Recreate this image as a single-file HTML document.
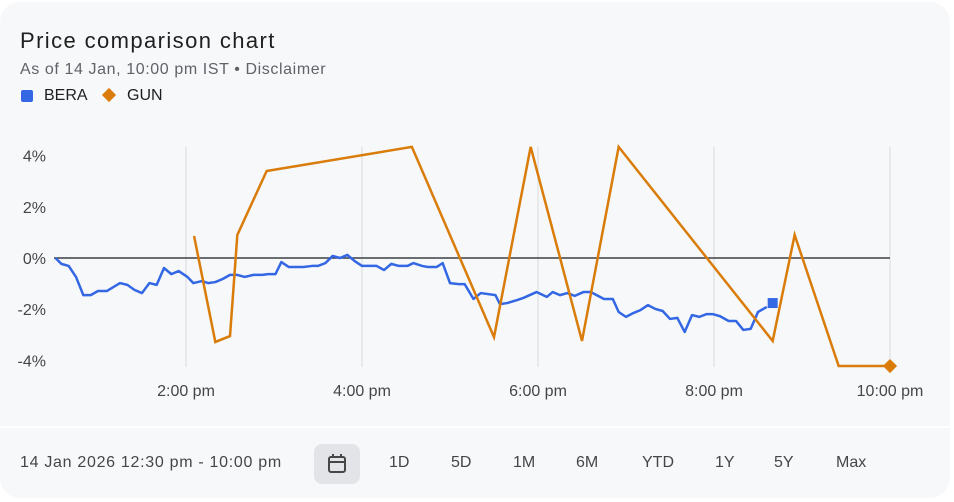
<!DOCTYPE html>
<html><head><meta charset="utf-8">
<style>
body{margin:0;background:#fff;font-family:"Liberation Sans",sans-serif;}
#wrap{position:relative;width:954px;height:502px;overflow:hidden;}
.card{position:absolute;left:0;top:2px;width:950px;height:424px;background:#f7f8fa;border-radius:20px 20px 0 0;}
.bot{position:absolute;left:0;top:428px;width:950px;height:70px;background:#f7f8fa;border-radius:0 0 20px 20px;}
.t{position:absolute;white-space:nowrap;}
.btn{position:absolute;top:454px;font-size:16px;color:#444746;}
</style></head><body>
<div id="wrap">
<div class="card"></div>
<div class="bot"></div>
<div class="t" style="left:20px;top:28px;font-size:22px;letter-spacing:1.4px;color:#1f1f1f">Price comparison chart</div>
<div class="t" style="left:20px;top:61px;font-size:16px;letter-spacing:0.6px;color:#5f6368">As of 14 Jan, 10:00 pm IST • <span>Disclaimer</span></div>
<div class="t" style="left:21px;top:90px;width:12px;height:12px;background:#3367e4;border-radius:2px"></div>
<div class="t" style="left:44px;top:87px;font-size:16px;color:#1f1f1f">BERA</div>
<div class="t" style="left:104px;top:90px;width:10px;height:10px;background:#d97c0a;transform:rotate(45deg)"></div>
<div class="t" style="left:127px;top:87px;font-size:16px;color:#1f1f1f">GUN</div>
<svg id="chart" width="954" height="420" style="position:absolute;left:0;top:0"></svg>
<div class="t" style="left:20px;top:454px;font-size:16px;letter-spacing:0.7px;color:#444746">14 Jan 2026 12:30 pm - 10:00 pm</div>
<div class="t" style="left:314px;top:444px;width:46px;height:40px;background:#e3e4e8;border-radius:8px">
<svg width="46" height="40"><rect x="15" y="13" width="16" height="15" rx="2" fill="none" stroke="#444746" stroke-width="2"/><line x1="15" y1="18" x2="31" y2="18" stroke="#444746" stroke-width="2"/><line x1="19" y1="10" x2="19" y2="14" stroke="#444746" stroke-width="2"/><line x1="27" y1="10" x2="27" y2="14" stroke="#444746" stroke-width="2"/></svg></div>
<div class="btn" style="left:389px">1D</div>
<div class="btn" style="left:451px">5D</div>
<div class="btn" style="left:513px">1M</div>
<div class="btn" style="left:576px">6M</div>
<div class="btn" style="left:642px">YTD</div>
<div class="btn" style="left:715px">1Y</div>
<div class="btn" style="left:774px">5Y</div>
<div class="btn" style="left:836px">Max</div>
</div>
<script>
// minutes since 12:30 pm, values in %
const beraMin=[1,5,10,15,20,25,30,36,45,50,55,60,65,70,75,80,85,91,95,101,105,110,115,120,125,130,136,142,146,151,155,160,170,176,180,185,190,195,200,205,210,220,225,230,235,241,245,251,255,261,265,270,276,280,286,291,301,304,309,316,320,329,336,340,345,350,355,361,366,370,375,381,385,390,395,400,405,410,415,420,425,430,435,440,445,449,454,460,465,470,475,480,486];
const beraVal=[0,-0.23,-0.31,-0.74,-1.45,-1.45,-1.29,-1.29,-0.98,-1.05,-1.25,-1.37,-0.98,-1.05,-0.39,-0.63,-0.51,-0.74,-0.98,-0.9,-0.98,-0.94,-0.82,-0.66,-0.66,-0.74,-0.66,-0.66,-0.63,-0.63,-0.16,-0.35,-0.35,-0.31,-0.31,-0.2,0.08,0,0.12,-0.12,-0.31,-0.31,-0.47,-0.23,-0.31,-0.31,-0.2,-0.31,-0.35,-0.35,-0.2,-0.98,-1.02,-1.02,-1.6,-1.37,-1.45,-1.8,-1.76,-1.64,-1.56,-1.33,-1.52,-1.33,-1.45,-1.37,-1.48,-1.33,-1.33,-1.45,-1.6,-1.6,-2.11,-2.3,-2.15,-2.03,-1.84,-1.99,-2.07,-2.38,-2.34,-2.89,-2.23,-2.3,-2.19,-2.19,-2.27,-2.46,-2.46,-2.81,-2.77,-2.11,-1.91];
const beraLastMin=490, beraLastVal=-1.76;
const gunMin=[95.5,110,120,125,145,244,300,325,360,385,490,505,535,570];
const gunVal=[0.86,-3.28,-3.05,0.9,3.4,4.34,-3.09,4.34,-3.24,4.34,-3.24,0.9,-4.22,-4.22];
const yTicks=[4,2,0,-2,-4];
const yTickLabels=["4%","2%","0%","-2%","-4%"];
const xTickMin=[90,210,330,450,570];
const xTickLabels=["2:00 pm","4:00 pm","6:00 pm","8:00 pm","10:00 pm"];

const X=m=>54+m*88/60, Y=v=>258-v*25.6;
const svg=document.getElementById('chart'), NS='http://www.w3.org/2000/svg';
function mk(tag,attrs){const e=document.createElementNS(NS,tag);for(const k in attrs)e.setAttribute(k,attrs[k]);svg.appendChild(e);return e;}
xTickMin.forEach((m,i)=>{
  const g=mk('line',{x1:X(m),x2:X(m),y1:147,y2:367,stroke:'#e3e4e6','stroke-width':1.5});
  
  
  const t=mk('text',{x:X(m),y:396,'text-anchor':'middle','font-size':16,fill:'#444746','font-family':'Liberation Sans, sans-serif'});
  t.textContent=xTickLabels[i];
  
  
});
yTicks.forEach((v,i)=>{
  const t=mk('text',{x:46,y:Y(v)+6,'text-anchor':'end','font-size':16,fill:'#444746','font-family':'Liberation Sans, sans-serif'});
  t.textContent=yTickLabels[i];
  
  
});
const z=mk('line',{x1:54,x2:890,y1:Y(0),y2:Y(0),stroke:'#3c4043','stroke-width':1.5});


const bp=mk('polyline',{points:beraMin.map((m,i)=>X(m)+','+Y(beraVal[i])).join(' '),fill:'none',stroke:'#3367e4','stroke-width':2.5,'stroke-linejoin':'round'});


const bm=mk('rect',{x:X(beraLastMin)-5,y:Y(beraLastVal)-5,width:10,height:10,fill:'#3367e4'});


const gp=mk('polyline',{points:gunMin.map((m,i)=>X(m)+','+Y(gunVal[i])).join(' '),fill:'none',stroke:'#d97c0a','stroke-width':2.5,'stroke-linejoin':'miter'});


const gl=gunMin.length-1, gx=X(gunMin[gl]), gy=Y(gunVal[gl]);
const gm=mk('rect',{x:gx-5,y:gy-5,width:10,height:10,fill:'#d97c0a',transform:`rotate(45 ${gx} ${gy})`});


</script>
</body></html>
